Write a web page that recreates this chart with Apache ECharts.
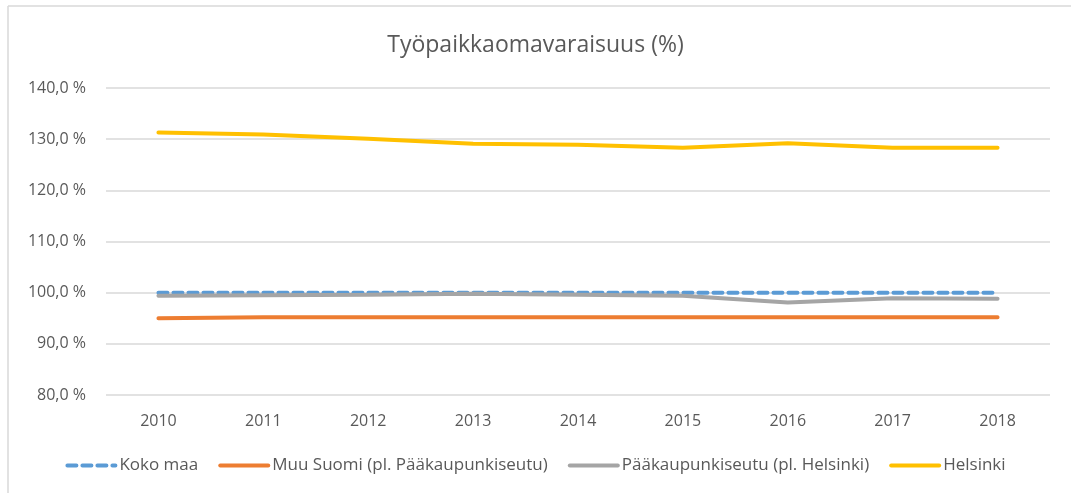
<!DOCTYPE html>
<html>
<head>
<meta charset="utf-8">
<script src="https://cdn.jsdelivr.net/npm/echarts@6/dist/echarts.min.js"></script>
<style>
  html, body { margin: 0; padding: 0; background: #fff; }
  #chart { width: 1071px; height: 493px; }
</style>
</head>
<body>
<div id="chart"></div>
<script>
const years = ['2010', '2011', '2012', '2013', '2014', '2015', '2016', '2017', '2018']
const kokoMaa = [100.0, 100.0, 100.0, 100.0, 100.0, 100.0, 100.0, 100.0, 100.0]
const muuSuomi = [95.0, 95.2, 95.2, 95.2, 95.2, 95.2, 95.2, 95.2, 95.2]
const paakaupunkiseutu = [99.4, 99.5, 99.6, 99.8, 99.6, 99.4, 98.1, 98.9, 98.8]
const helsinki = [131.3, 130.9, 130.1, 129.1, 128.9, 128.3, 129.2, 128.3, 128.3]

const font = '"Open Sans", "Noto Sans", sans-serif'
const textColor = '#595959'

const myChart = echarts.init(document.getElementById('chart'))

const line = (name, data, color, type) => ({
  name,
  type: 'line',
  data,
  symbol: 'none',
  lineStyle: { color, width: 4, type: type || 'solid', cap: 'round' },
  itemStyle: { color }
})

const option = {
  animation: false,
  backgroundColor: '#fff',
  title: {
    text: 'Työpaikkaomavaraisuus (%)',
    left: 'center',
    top: 29,
    textStyle: { fontFamily: font, fontSize: 23, fontWeight: 'normal', color: textColor }
  },
  graphic: [
    { type: 'line', shape: { x1: 8, y1: 6, x2: 1071, y2: 6 }, style: { stroke: '#d9d9d9', lineWidth: 1.5 } },
    { type: 'line', shape: { x1: 8, y1: 6, x2: 8, y2: 493 }, style: { stroke: '#d9d9d9', lineWidth: 1.5 } }
  ],
  grid: { left: 106, right: 21, top: 88, bottom: 98 },
  legend: {
    bottom: 14,
    left: 'center',
    itemWidth: 48,
    itemHeight: 12,
    itemGap: 20,
    itemStyle: { opacity: 0 },
    lineStyle: { width: 4 },
    textStyle: { fontFamily: font, fontSize: 17, color: textColor, padding: [0, 0, 0, -1] },
    data: ['Koko maa', 'Muu Suomi (pl. Pääkaupunkiseutu)', 'Pääkaupunkiseutu (pl. Helsinki)', 'Helsinki']
  },
  xAxis: {
    type: 'category',
    data: years,
    boundaryGap: true,
    axisLine: { show: false },
    axisTick: { show: false },
    axisLabel: { fontFamily: font, fontSize: 16, color: textColor, margin: 18 }
  },
  yAxis: {
    type: 'value',
    min: 80,
    max: 140,
    interval: 10,
    axisLine: { show: false },
    axisTick: { show: false },
    splitLine: { lineStyle: { color: '#d9d9d9', width: 1.5 } },
    axisLabel: {
      fontFamily: font,
      fontSize: 16,
      color: textColor,
      margin: 20,
      formatter: v => v.toFixed(1).replace('.', ',') + ' %'
    }
  },
  series: [
    line('Koko maa', kokoMaa, '#5B9BD5', [9, 6]),
    line('Muu Suomi (pl. Pääkaupunkiseutu)', muuSuomi, '#ED7D31'),
    line('Pääkaupunkiseutu (pl. Helsinki)', paakaupunkiseutu, '#A5A5A5'),
    line('Helsinki', helsinki, '#FFC000')
  ]
}

myChart.setOption(option)
</script>
</body>
</html>
